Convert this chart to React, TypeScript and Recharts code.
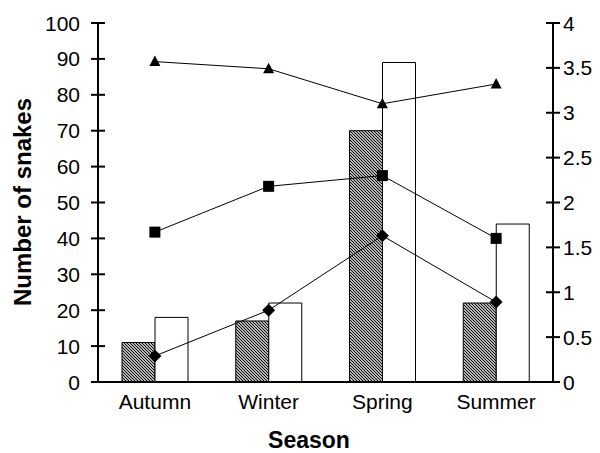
import React from 'react';
import {
  ComposedChart,
  Bar,
  Line,
  XAxis,
  YAxis,
} from 'recharts';

const seasons = ['Autumn', 'Winter', 'Spring', 'Summer'];
const hatchedCounts = [11, 17, 70, 22];
const whiteCounts = [18, 22, 89, 44];
const triangleSeries = [3.57, 3.49, 3.1, 3.32];
const squareSeries = [1.67, 2.18, 2.3, 1.6];
const diamondSeries = [0.29, 0.8, 1.63, 0.89];
const leftTicks = [0, 10, 20, 30, 40, 50, 60, 70, 80, 90, 100];
const rightTicks = [0, 0.5, 1, 1.5, 2, 2.5, 3, 3.5, 4];

const data = seasons.map((season, i) => ({
  season,
  hatched: hatchedCounts[i],
  white: whiteCounts[i],
  tri: triangleSeries[i],
  sq: squareSeries[i],
  dia: diamondSeries[i],
}));

const FONT = '"Liberation Sans", Arial, sans-serif';

type TickProps = {
  x: number;
  y: number;
  payload: { value: string | number };
};

function LeftTick({ x, y, payload }: TickProps) {
  return (
    <g>
      <line x1={x + 11} x2={x + 25} y1={y} y2={y} stroke="#000" strokeWidth={2} />
      <text x={x} y={y} textAnchor="end" dominantBaseline="central" fontSize={21} fontFamily={FONT} fill="#000">
        {payload.value}
      </text>
    </g>
  );
}

function RightTick({ x, y, payload }: TickProps) {
  return (
    <g>
      <line x1={x - 17} x2={x - 3} y1={y} y2={y} stroke="#000" strokeWidth={2} />
      <text x={x} y={y} textAnchor="start" dominantBaseline="central" fontSize={21} fontFamily={FONT} fill="#000">
        {payload.value}
      </text>
    </g>
  );
}

function BottomTick({ x, y, payload }: TickProps) {
  return (
    <text x={x} y={y} textAnchor="middle" dominantBaseline="central" fontSize={21} fontFamily={FONT} fill="#000">
      {payload.value}
    </text>
  );
}

// marker shapes for the three line series
function makeDot(kind: 'tri' | 'sq' | 'dia') {
  return (props: any) => {
    const { cx, cy, index } = props;
    if (cx == null || cy == null) return <g key={index} />;
    if (kind === 'sq') {
      return <rect key={index} x={cx - 5.5} y={cy - 5.5} width={11} height={11} fill="#000" />;
    }
    if (kind === 'tri') {
      return (
        <polygon
          key={index}
          points={`${cx},${cy - 6} ${cx + 5.5},${cy + 4.5} ${cx - 5.5},${cy + 4.5}`}
          fill="#000"
        />
      );
    }
    return (
      <polygon
        key={index}
        points={`${cx},${cy - 6.5} ${cx + 6.5},${cy} ${cx},${cy + 6.5} ${cx - 6.5},${cy}`}
        fill="#000"
      />
    );
  };
}

export default function App() {
  return (
    <div style={{ position: 'absolute', left: 0, top: 0, background: '#fff' }}>
      <ComposedChart
        width={600}
        height={453}
        data={data}
        margin={{ top: 23, right: 0, bottom: 0, left: 0 }}
        barGap={0}
      >
        <defs>
          <pattern id="hatch" patternUnits="userSpaceOnUse" width="3" height="3">
            <rect width="3" height="3" fill="#fff" />
            <path d="M-1,-1 L4,4 M-1,2 L1,4 M2,-1 L4,1" stroke="#000" strokeWidth={1.1} />
          </pattern>
        </defs>
        <XAxis
          dataKey="season"
          height={71}
          tickLine={false}
          tickSize={0}
          tickMargin={19}
          axisLine={{ stroke: '#000', strokeWidth: 2 }}
          tick={(p: any) => <BottomTick {...p} />}
          interval={0}
          label={{
            content: () => (
              <text x={309} y={440} textAnchor="middle" dominantBaseline="central" fontSize={23} fontWeight="bold" fontFamily={FONT} fill="#000">
                Season
              </text>
            ),
          }}
        />
        <YAxis
          yAxisId="left"
          width={98}
          domain={[0, 100]}
          ticks={leftTicks}
          interval={0}
          tickLine={false}
          tickSize={0}
          tickMargin={18}
          axisLine={{ stroke: '#000', strokeWidth: 2 }}
          tick={(p: any) => <LeftTick {...p} />}
          label={{
            content: () => (
              <text
                x={22}
                y={202}
                transform="rotate(-90 22 202)"
                textAnchor="middle"
                dominantBaseline="central"
                fontSize={24}
                fontWeight="bold"
                fontFamily={FONT}
                fill="#000"
              >
                Number of snakes
              </text>
            ),
          }}
        />
        <YAxis
          yAxisId="right"
          orientation="right"
          width={47}
          domain={[0, 4]}
          ticks={rightTicks}
          interval={0}
          tickLine={false}
          tickSize={0}
          tickMargin={10}
          axisLine={{ stroke: '#000', strokeWidth: 2 }}
          tick={(p: any) => <RightTick {...p} />}
        />
        <Bar yAxisId="left" dataKey="hatched" barSize={33} fill="url(#hatch)" stroke="#000" strokeWidth={1} isAnimationActive={false} />
        <Bar yAxisId="left" dataKey="white" barSize={33} fill="#fff" stroke="#000" strokeWidth={1} isAnimationActive={false} />
        <Line yAxisId="right" dataKey="tri" stroke="#000" strokeWidth={1} dot={makeDot('tri')} activeDot={false} isAnimationActive={false} />
        <Line yAxisId="right" dataKey="sq" stroke="#000" strokeWidth={1} dot={makeDot('sq')} activeDot={false} isAnimationActive={false} />
        <Line yAxisId="right" dataKey="dia" stroke="#000" strokeWidth={1} dot={makeDot('dia')} activeDot={false} isAnimationActive={false} />
      </ComposedChart>
    </div>
  );
}
